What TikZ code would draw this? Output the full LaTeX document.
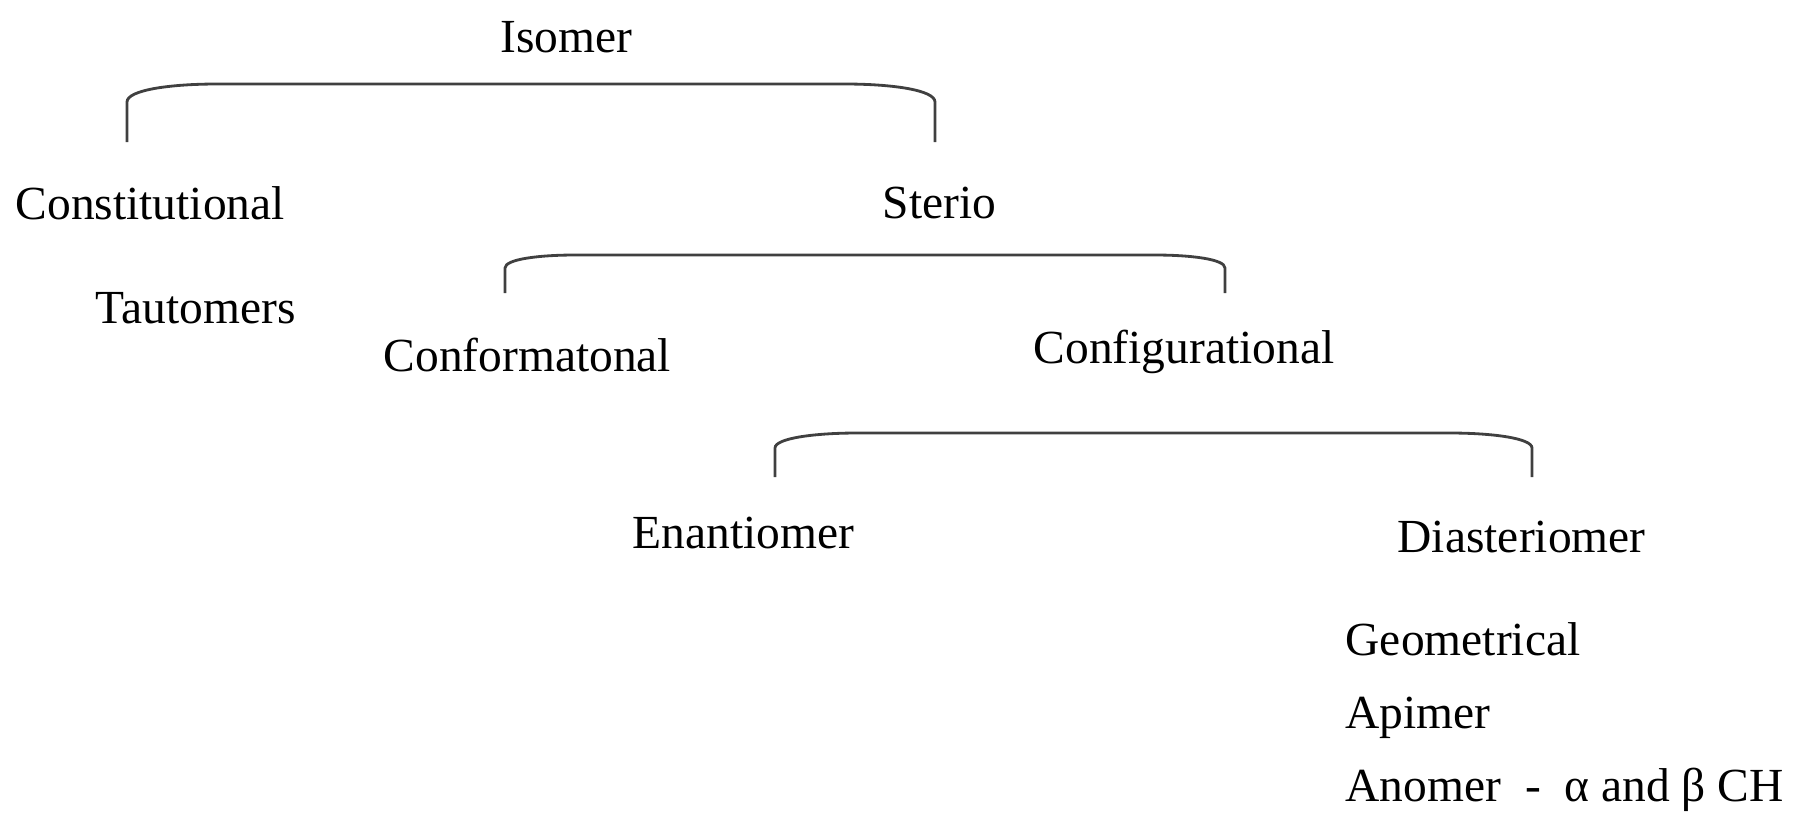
\documentclass[tikz,border=0pt]{standalone}
\usepackage{fontspec}
\setmainfont{Liberation Serif}
\usepackage{tikz}
\usetikzlibrary{positioning}

\begin{document}
\begin{tikzpicture}[x=0.01cm, y=-0.01cm,
		lbl/.style={anchor=base west, inner sep=0pt, font=\fontsize{13.5}{16}\selectfont},
		brk/.style={line width=0.8pt, black!75}]
			\useasboundingbox (0,0) rectangle (1796,814);
			% labels
			\node[lbl] (isomer) at (500,52) {Isomer};
			\node[lbl] (const) at (15,219) {Constitutional};
			\node[lbl] (sterio) at (882,218) {Sterio};
			\node[lbl] (tauto) at (95,323) {Tautomers};
			\node[lbl] (conform) at (383,371) {Conformatonal};
			\node[lbl] (config) at (1033,363) {Configurational};
			\node[lbl] (enant) at (632,548) {Enantiomer};
			\node[lbl] (diast) at (1397,552) {Diasteriomer};
			\node[lbl] (geom) at (1345,655) {Geometrical};
			\node[lbl] (apim) at (1345,728) {Apimer};
			\node[lbl] (anom) at (1345,801) {Anomer \ -\ \ α and β CH};
			% brackets
			\coordinate (b1l) at (127,142);
			\coordinate (b1r) at (935,142);
			\draw[brk] (b1l) -- (127,102) .. controls (127,90) and (170,84) .. (217,84)
				-- (845,84) .. controls (892,84) and (935,90) .. (935,102) -- (b1r);
			\coordinate (b2l) at (505,293);
			\coordinate (b2r) at (1225,293);
			\draw[brk] (b2l) -- (505,268) .. controls (505,259) and (540,255) .. (575,255)
				-- (1155,255) .. controls (1190,255) and (1225,259) .. (1225,268) -- (b2r);
			\coordinate (b3l) at (775,477);
			\coordinate (b3r) at (1532,477);
			\draw[brk] (b3l) -- (775,448) .. controls (775,438) and (816,433) .. (857,433)
				-- (1450,433) .. controls (1491,433) and (1532,438) .. (1532,448) -- (b3r);
		\end{tikzpicture}
\end{document}
